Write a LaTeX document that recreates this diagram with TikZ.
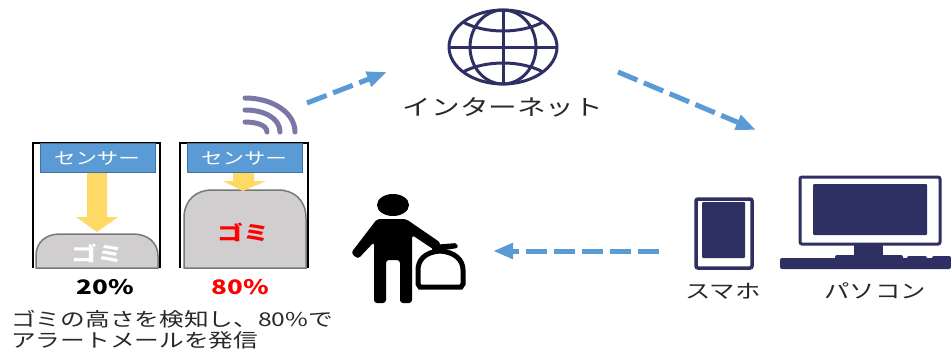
\documentclass[tikz,border=0pt]{standalone}
\usepackage{fontspec}
\usepackage{tikz}
\usetikzlibrary{arrows.meta}
\newfontfamily\jpfont{Noto Sans CJK JP}
\definecolor{niceblue}{RGB}{91, 155, 213}
\definecolor{sensorline}{RGB}{65, 113, 156}
\definecolor{niceyellow}{RGB}{255, 217, 102}
\definecolor{lgray}{RGB}{208, 206, 206}
\definecolor{mgray}{RGB}{120, 120, 120}
\definecolor{navy}{RGB}{46, 47, 98}
\definecolor{wifi}{RGB}{122, 119, 168}
\definecolor{txt}{RGB}{40, 40, 40}
\tikzset{
	wide/.style = {transform shape, xscale = 1.3, inner sep = 0pt, text = txt},
	bigtext/.style = {wide, font = \jpfont\fontsize{22}{22}\selectfont},
	midtext/.style = {wide, font = \jpfont\fontsize{19.5}{21}\selectfont},
	notetext/.style = {wide, font = \jpfont\fontsize{19}{21}\selectfont},
	sensortext/.style = {wide, text = white, font = \jpfont\fontsize{16.5}{16.5}\selectfont},
	boldtext/.style = {wide, font = \jpfont\bfseries\fontsize{20}{20}\selectfont},
	flow/.style = {draw = niceblue, line width = 5pt, dash pattern = on 21pt off 7pt, -{Triangle[length = 20pt, width = 15pt]}},
	bin/.style = {draw = black, line width = 2.5pt},
	sensor/.style = {fill = niceblue, draw = sensorline, line width = 1pt},
	trash/.style = {fill = lgray, draw = mgray, line width = 1.5pt},
	drop/.style = {fill = niceyellow},
	globeline/.style = {draw = navy, line width = 3pt},
	wave/.style = {draw = wifi, line width = 5pt, line cap = round},
}
\begin{document}
\begin{tikzpicture}[x = 1pt, y = -1pt]
			\useasboundingbox (0,0) rectangle (951,351);
			\fill[white] (0,0) rectangle (951,351);
			\fill[trash] (36,268) -- (36,256) .. controls (36,242) and (46,234) .. (60,234) -- (133,234) .. controls (147,234) and (158,242) .. (158,256) -- (158,268) -- cycle;
			\draw[bin] (33,268) -- (33,143) -- (160,143) -- (160,268);
			\fill[drop] (87,172) -- (107,172) -- (107,217) -- (118,217) -- (97,232) -- (76,217) -- (87,217) -- cycle;
			\draw[sensor] (40,143) rectangle (155,172);
			\node (senA) at (97,158) [sensortext] {センサー};
			\node (gomiA) at (97,253) [boldtext, text = white] {ゴミ};
			\node (pctA) at (105,287) [boldtext, text = black] {20\%};
			\fill[trash] (184,268) -- (184,218) .. controls (184,200) and (196,190) .. (212,190) -- (278,190) .. controls (294,190) and (306,200) .. (306,218) -- (306,268) -- cycle;
			\draw[bin] (180,268) -- (180,143) -- (308,143) -- (308,268);
			\fill[drop] (233,172) -- (254,172) -- (254,181) -- (266,181) -- (243,191) -- (223,181) -- (233,181) -- cycle;
			\draw[sensor] (187,143) rectangle (302,172);
			\node (senB) at (244,158) [sensortext] {センサー};
			\node (gomiB) at (243,232) [boldtext, text = red] {ゴミ};
			\node (pctB) at (240,287) [boldtext, text = red] {80\%};
			\node (note) at (11,330) [notetext, anchor = west, align = left] {ゴミの高さを検知し、80\%で\\アラートメールを発信};
			\draw[wave] (245,98) .. controls (273,98) and (295,113) .. (295,132);
			\draw[wave] (245,110) .. controls (264,110) and (280,118) .. (280,132);
			\draw[wave] (245,122) .. controls (256,122) and (267,125) .. (267,132);
			\draw[globeline] (503,47) ellipse [x radius = 54, y radius = 37];
			\draw[globeline] (503,47) ellipse [x radius = 33, y radius = 37];
			\draw[globeline] (503,10) -- (503,84);
			\draw[globeline] (449,47) -- (557,47);
			\draw[globeline] (463,22) .. controls (485,34) and (521,34) .. (543,22);
			\draw[globeline] (463,72) .. controls (485,60) and (521,60) .. (543,72);
			\node (net) at (503,107) [bigtext] {インターネット};
			\fill (393,205) ellipse [x radius = 16, y radius = 11];
			\fill[rounded corners = 3pt] (377,219) -- (406,219) -- (441,243) -- (436,251) -- (412,235) -- (412,303) -- (400,303) -- (400,260) -- (386,260) -- (386,303) -- (374,303) -- (374,242) -- (358,259) -- (351,253) -- cycle;
			\draw[line width = 5pt] (440,251) .. controls (425,252) and (418,260) .. (418,270) -- (418,284) -- (420,287) -- (461,287) -- (463,284) -- (463,270) .. controls (463,260) and (455,252) .. (440,251);
			\fill[rounded corners = 2pt] (432,245) -- (457,243) -- (458,248) -- (444,250) -- (432,251) -- cycle;
			\draw[draw = navy, line width = 3.5pt, rounded corners = 2pt] (696,199) rectangle (752,268);
			\fill[navy, rounded corners = 1pt] (702,202) rectangle (745,258);
			\node (phone) at (723,291) [midtext] {スマホ};
			\draw[draw = navy, line width = 3pt, rounded corners = 2pt] (800,177) rectangle (940,244);
			\fill[navy, rounded corners = 1pt] (813,184) rectangle (927,235);
			\fill[navy] (854,244) rectangle (883,258);
			\fill[navy, rounded corners = 2pt] (780,258) rectangle (951,269);
			\fill[navy, rounded corners = 2pt] (835,255) rectangle (903,262);
			\fill[navy, rounded corners = 2pt] (907,256) rectangle (927,262);
			\fill[navy, rounded corners = 2pt] (932,256) rectangle (951,262);
			\node (pc) at (875,291) [midtext] {パソコン};
			\coordinate (wifiout) at (307,103);
			\coordinate (netin) at (387,72);
			\coordinate (netout) at (618,72);
			\coordinate (pcin) at (756,130);
			\coordinate (phoneout) at (659,251);
			\coordinate (manin) at (493,251);
			\draw[flow] (wifiout) -- (netin);
			\draw[flow] (netout) -- (pcin);
			\draw[flow] (phoneout) -- (manin);
			\end{tikzpicture}
\end{document}
